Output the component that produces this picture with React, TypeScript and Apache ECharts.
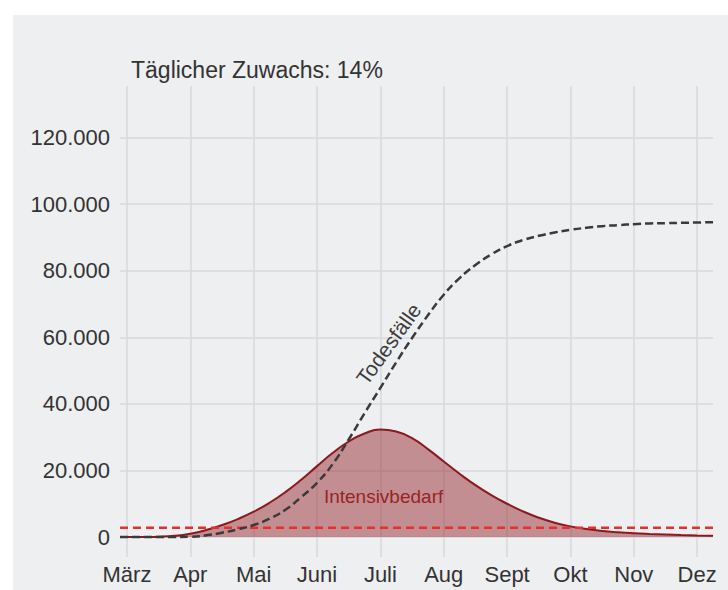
import React, { useEffect, useRef } from "react";
import * as echarts from "echarts";

const monthLabels = ["März", "Apr", "Mai", "Juni", "Juli", "Aug", "Sept", "Okt", "Nov", "Dez"];
const monthTicks = [0, 1, 2, 3, 4, 5, 6, 7, 8, 9];
const yTicks = [0, 20000, 40000, 60000, 80000, 100000, 120000];

const curveX = [-0.11, 0, 0.25, 0.5, 0.75, 1, 1.25, 1.5, 1.75, 2, 2.25, 2.5, 2.75, 3, 3.25, 3.5, 3.75, 4, 4.25, 4.5, 4.75, 5, 5.25, 5.5, 5.75, 6, 6.25, 6.5, 6.75, 7, 7.25, 7.5, 7.75, 8, 8.25, 8.5, 8.75, 9, 9.25];
const icuValues = [0, 0, 20, 100, 350, 1000, 2100, 3600, 5400, 7600, 10300, 13500, 17200, 21300, 25300, 28700, 31100, 32300, 31700, 29700, 26400, 22700, 19000, 15600, 12600, 10000, 7700, 5800, 4300, 3200, 2400, 1800, 1400, 1100, 900, 750, 600, 480, 400];
const deathValues = [0, 0, 0, 0, 20, 100, 500, 1300, 2300, 3600, 5500, 8200, 12000, 16300, 22000, 29300, 37200, 44800, 52500, 59800, 66600, 72800, 77800, 81700, 84900, 87400, 89200, 90500, 91500, 92300, 92900, 93400, 93700, 94000, 94200, 94300, 94400, 94500, 94600];
const capacityValue = 2800;
const xRange = [-0.11, 9.25];
const yRange = [-6000, 135500];

const titleText = "Täglicher Zuwachs: 14%";
const icuLabel = "Intensivbedarf";
const icuLabelAt = [4.05, 12300];
const deathLabel = "Todesfälle";
const deathLabelAt = [4.13, 58000];

const FONT = "'Liberation Sans', Arial, Helvetica, sans-serif";

function fmt(v: number) {
  return String(v).replace(/\B(?=(\d{3})+(?!\d))/g, ".");
}

export default function App() {
  const ref = useRef<HTMLDivElement>(null);
  useEffect(() => {
    const chart = echarts.init(ref.current!, null, { renderer: "svg" });
    const grid = "#d7d8db";
    chart.setOption({
      animation: false,
      backgroundColor: "#ffffff",
      graphic: [
        {
          type: "rect",
          z: -10,
          silent: true,
          shape: { x: 13, y: 15, width: 715, height: 575 },
          style: { fill: "#eeeff1" },
        },
        {
          type: "text",
          x: 131,
          y: 70,
          style: {
            text: titleText,
            font: `23px ${FONT}`,
            fill: "#333333",
            verticalAlign: "middle",
            align: "left",
          },
        },
      ],
      grid: { left: 120, right: 15, top: 86, bottom: 33, containLabel: false },
      xAxis: {
        type: "value",
        min: xRange[0],
        max: xRange[1],
        axisLine: { show: false },
        axisTick: { show: false, customValues: monthTicks },
        axisLabel: {
          customValues: monthTicks,
          formatter: (v: number) => monthLabels[Math.round(v)] ?? "",
          fontSize: 22,
          fontFamily: FONT,
          color: "#333333",
          margin: 6,
        },
        splitLine: { show: true, lineStyle: { color: grid, width: 1.5 } },
      },
      yAxis: {
        type: "value",
        min: yRange[0],
        max: yRange[1],
        axisLine: { show: false },
        axisTick: { show: false, customValues: yTicks },
        axisLabel: {
          customValues: yTicks,
          formatter: (v: number) => fmt(v),
          fontSize: 22,
          fontFamily: FONT,
          color: "#333333",
          margin: 10,
        },
        splitLine: { show: true, lineStyle: { color: grid, width: 1.5 } },
      },
      series: [
        {
          type: "line",
          name: "Intensivbedarf",
          data: curveX.map((x, i) => [x, icuValues[i]]),
          smooth: 0.5,
          showSymbol: false,
          lineStyle: { color: "#8b1a1f", width: 2 },
          areaStyle: { color: "rgba(140,15,20,0.62)", origin: 0 },
          z: 2,
          markPoint: {
            symbol: "circle",
            symbolSize: 0,
            data: [
              {
                coord: icuLabelAt,
                label: {
                  show: true,
                  formatter: icuLabel,
                  position: "inside",
                  fontSize: 19,
                  fontFamily: FONT,
                  color: "#9b2226",
                },
              },
            ],
          },
        },
        {
          type: "line",
          name: "Kapazität",
          data: xRange.map((x) => [x, capacityValue]),
          showSymbol: false,
          lineStyle: { color: "#e8302a", width: 2.5, type: [8, 5] },
          z: 3,
        },
        {
          type: "line",
          name: "Todesfälle",
          data: curveX.map((x, i) => [x, deathValues[i]]),
          smooth: 0.5,
          showSymbol: false,
          lineStyle: { color: "#3a3a3a", width: 2.5, type: [8, 4] },
          z: 4,
          markPoint: {
            symbol: "circle",
            symbolSize: 0,
            data: [
              {
                coord: deathLabelAt,
                label: {
                  show: true,
                  formatter: deathLabel,
                  position: "inside",
                  rotate: 54,
                  fontSize: 21,
                  fontFamily: FONT,
                  color: "#3c3c3c",
                },
              },
            ],
          },
        },
      ],
    });
    return () => chart.dispose();
  }, []);
  return (
    <div
      ref={ref}
      style={{ position: "absolute", left: 0, top: 0, width: 728, height: 590 }}
    />
  );
}
